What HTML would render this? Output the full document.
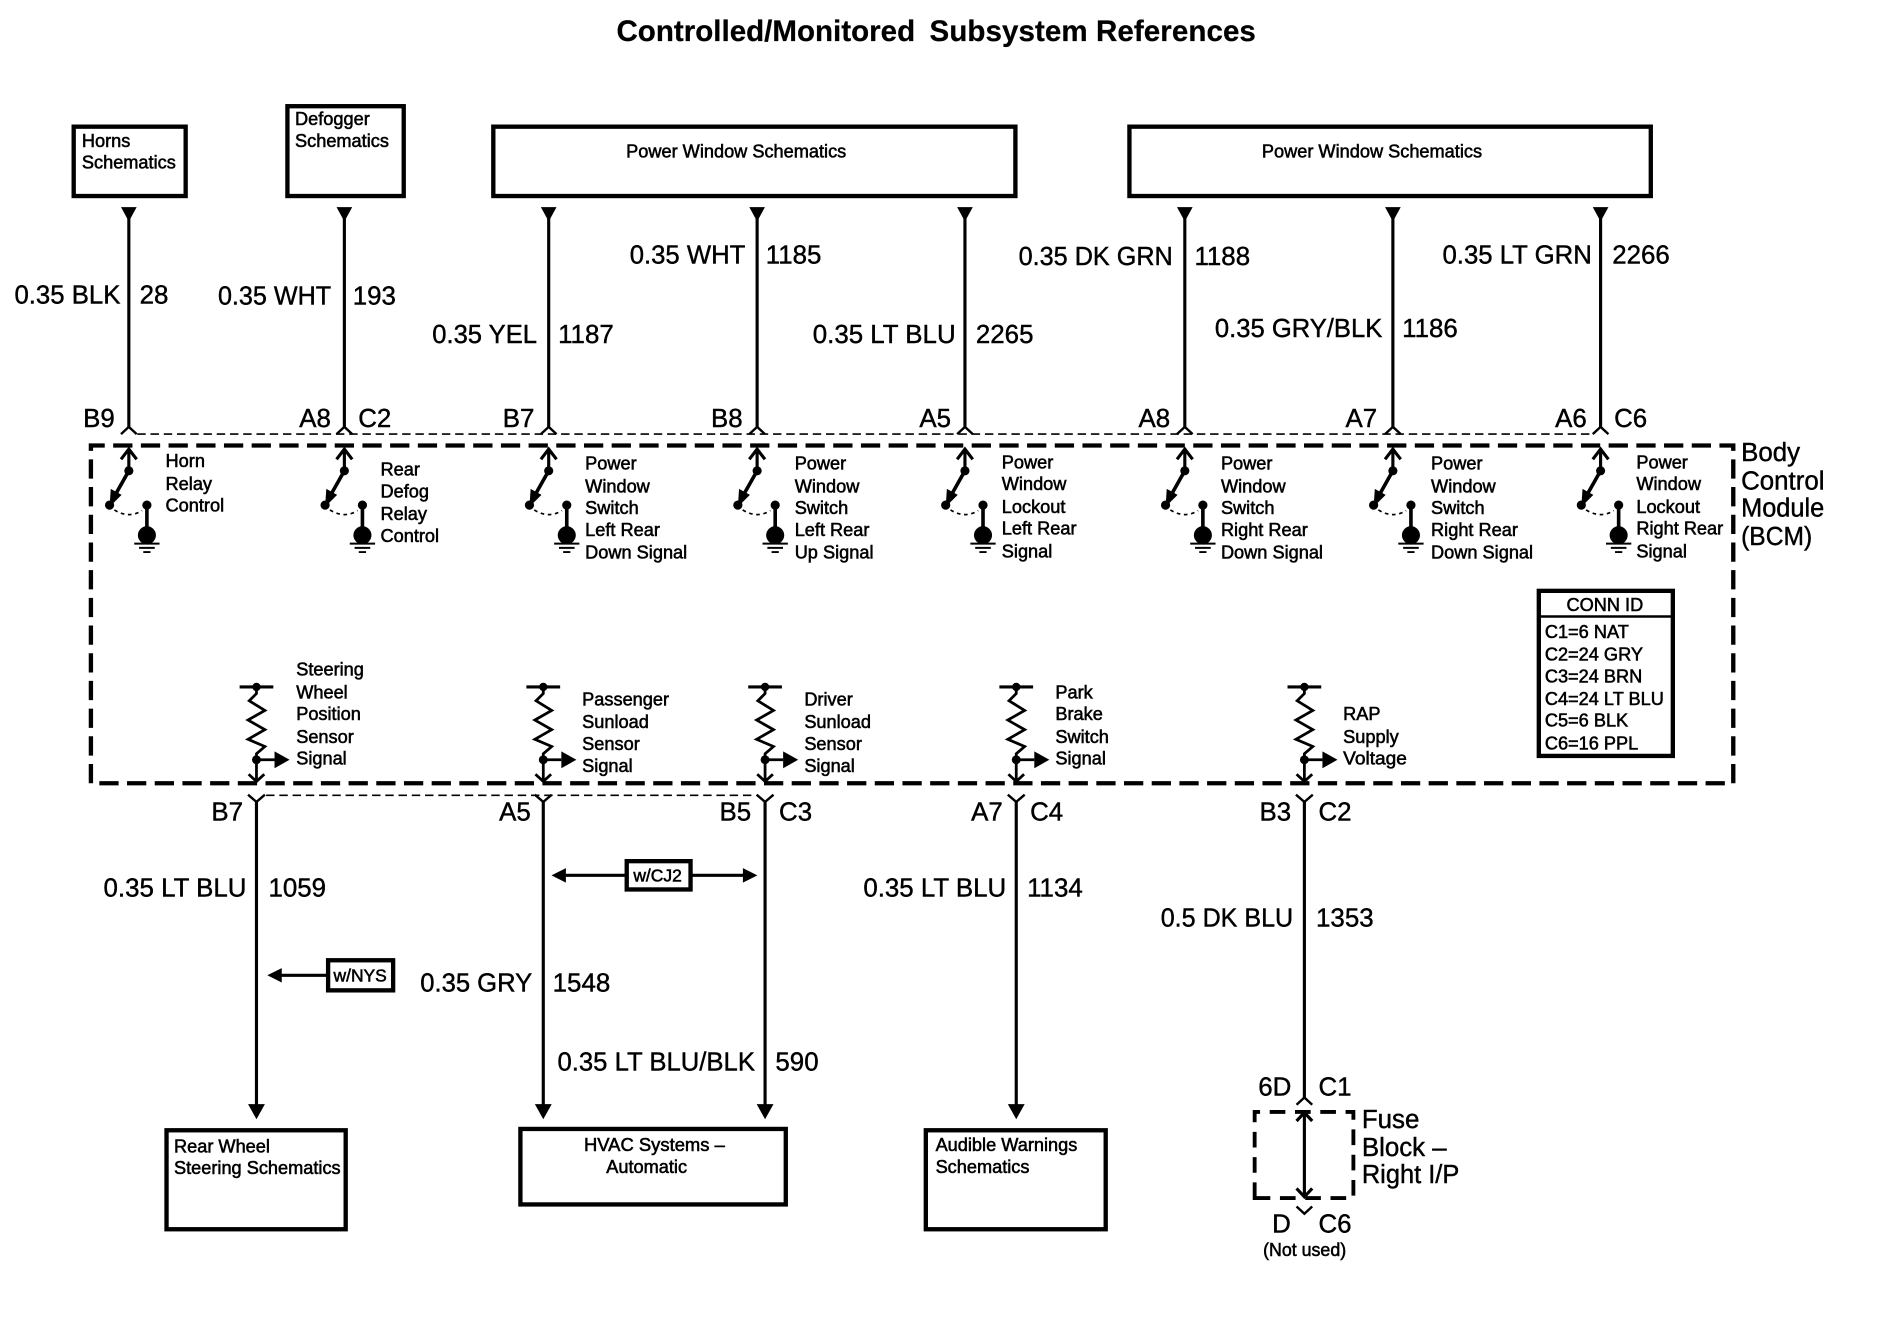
<!DOCTYPE html>
<html><head><meta charset="utf-8"><title>Controlled/Monitored Subsystem References</title>
<style>
html,body{margin:0;padding:0;background:#fff}
svg{display:block}
text{font-family:"Liberation Sans",sans-serif;fill:#000}
.l{font-size:21.5px;stroke:#000;stroke-width:.35}
.s{font-size:15.1px;stroke:#000;stroke-width:.45}
.t{font-size:24.5px;font-weight:bold;stroke:#000;stroke-width:.2}
.w{stroke:#000;stroke-width:2.6;fill:none}
.b{stroke:#000;stroke-width:3.6;fill:#fff}
</style></head><body>
<svg xmlns="http://www.w3.org/2000/svg" width="1888" height="1344" viewBox="0 0 1568 1116.2">
<defs>
<g id="sw">
<path class="w" d="M0 373V391M-6.500 381.500L0 373L6.500 381.500"/>
<circle cx="0" cy="391" r="3.800"/>
<path class="w" style="stroke-width:3" d="M0 391L-13 414"/>
<path d="M-16 421L-15 406L-6 411Z"/>
<circle cx="-16" cy="419.500" r="3.800"/>
<circle cx="15" cy="419.500" r="3.800"/>
<path d="M-12 423.500Q0 431 11 424" fill="none" stroke="#000" stroke-width="1.400" stroke-dasharray="3 3"/>
<path class="w" style="stroke-width:3" d="M15 420V444"/>
<circle cx="15" cy="444.500" r="7.500"/>
<path d="M4.500 451.500H25.500M8.500 455H21.500M12 458.500H18" stroke="#000" stroke-width="1.600" fill="none"/>
</g>
<g id="se">
<path class="w" d="M-14 570.500H14"/>
<circle cx="0" cy="570.500" r="3.500"/>
<path class="w" style="stroke-width:2.300" d="M0 571V576L-6 582L7 590L-7 598L7 606L-7 614L7 620L0 626V649M-6.500 643L0 649L6.500 643M0 631H15"/>
<circle cx="0" cy="631" r="3.700"/>
<path d="M15 624L27.500 631L15 638Z"/>
</g>
<path id="dn" d="M-6.500 172H6.500L0 184Z"/>
<path id="ch" class="w" style="stroke-width:2" d="M-6.500 360.500L0 354.500L6.500 360.500"/>
<path id="yy" class="w" style="stroke-width:2" d="M-7 660L0 666L7 660"/>
<path id="ad" d="M-7 917H7L0 929.500Z"/>
</defs>

<text class="t" x="512" y="34" textLength="248">Controlled/Monitored</text>
<text class="t" x="772" y="34" textLength="271">Subsystem References</text>

<rect class="b" x="61.200" y="105.200" width="93" height="57.600"/>
<rect class="b" x="238.700" y="88.200" width="96.600" height="74.600"/>
<rect class="b" x="409.700" y="105.200" width="433.600" height="57.600"/>
<rect class="b" x="938" y="105.200" width="433" height="57.600"/>

<text class="s" x="68" y="122">Horns</text><text class="s" x="68" y="140">Schematics</text>
<text class="s" x="245" y="104">Defogger</text><text class="s" x="245" y="122">Schematics</text>
<text class="s" x="520" y="131">Power Window Schematics</text>
<text class="s" x="1048" y="131">Power Window Schematics</text>

<!-- upper wires -->
<g>
<path class="w" d="M107 176V354.500M286 176V354.500M455.700 176V354.500M628.800 176V354.500M801.400 176V354.500M984 176V354.500M1156.800 176V354.500M1329.300 176V354.500"/>
<use href="#dn" x="107"/><use href="#dn" x="286"/><use href="#dn" x="455.700"/><use href="#dn" x="628.800"/><use href="#dn" x="801.400"/><use href="#dn" x="984"/><use href="#dn" x="1156.800"/><use href="#dn" x="1329.300"/>
<use href="#ch" x="107"/><use href="#ch" x="286"/><use href="#ch" x="455.700"/><use href="#ch" x="628.800"/><use href="#ch" x="801.400"/><use href="#ch" x="984"/><use href="#ch" x="1156.800"/><use href="#ch" x="1329.300"/>
</g>
<path d="M114 360.500H1322" stroke="#000" stroke-width="1.300" stroke-dasharray="7 4" fill="none"/>

<g>
<text class="l" x="12" y="252" textLength="88" lengthAdjust="spacingAndGlyphs">0.35 BLK</text><text class="l" x="116" y="252">28</text>
<text class="l" x="181" y="253" textLength="94" lengthAdjust="spacingAndGlyphs">0.35 WHT</text><text class="l" x="293" y="253">193</text>
<text class="l" x="359" y="285" textLength="87" lengthAdjust="spacingAndGlyphs">0.35 YEL</text><text class="l" x="463.500" y="285">1187</text>
<text class="l" x="523" y="219" textLength="96" lengthAdjust="spacingAndGlyphs">0.35 WHT</text><text class="l" x="636" y="219">1185</text>
<text class="l" x="675" y="285">0.35 LT BLU</text><text class="l" x="810.500" y="285">2265</text>
<text class="l" x="846" y="220" textLength="128" lengthAdjust="spacingAndGlyphs">0.35 DK GRN</text><text class="l" x="992" y="220">1188</text>
<text class="l" x="1009" y="280" textLength="139" lengthAdjust="spacingAndGlyphs">0.35 GRY/BLK</text><text class="l" x="1164.500" y="280">1186</text>
<text class="l" x="1198" y="219" textLength="124" lengthAdjust="spacingAndGlyphs">0.35 LT GRN</text><text class="l" x="1339" y="219">2266</text>
<text class="l" x="69" y="354.500">B9</text><text class="l" x="248.500" y="354.500">A8</text><text class="l" x="297.500" y="354.500">C2</text>
<text class="l" x="417.500" y="354.500">B7</text><text class="l" x="590.500" y="354.500">B8</text><text class="l" x="763.500" y="354.500">A5</text>
<text class="l" x="945.500" y="354.500">A8</text><text class="l" x="1117.500" y="354.500">A7</text><text class="l" x="1291.500" y="354.500">A6</text><text class="l" x="1340.500" y="354.500">C6</text>
</g>

<!-- BCM dashed box -->
<path d="M75.500 650.500V370H1439.500V650.500Z" fill="none" stroke="#000" stroke-width="3.600" stroke-dasharray="16 7"/>

<use href="#sw" x="107"/><use href="#sw" x="286"/><use href="#sw" x="455.700"/><use href="#sw" x="628.800"/><use href="#sw" x="801.400"/><use href="#sw" x="984"/><use href="#sw" x="1156.800"/><use href="#sw" x="1329.300"/>

<text class="s" x="137.500" y="388">Horn</text><text class="s" x="137.500" y="407">Relay</text><text class="s" x="137.500" y="425">Control</text>
<text class="s" x="316" y="395">Rear</text><text class="s" x="316" y="413">Defog</text><text class="s" x="316" y="432">Relay</text><text class="s" x="316" y="450">Control</text>
<text class="s" x="486" y="390">Power</text><text class="s" x="486" y="409">Window</text><text class="s" x="486" y="427">Switch</text><text class="s" x="486" y="445">Left Rear</text><text class="s" x="486" y="464">Down Signal</text>
<text class="s" x="660" y="390">Power</text><text class="s" x="660" y="409">Window</text><text class="s" x="660" y="427">Switch</text><text class="s" x="660" y="445">Left Rear</text><text class="s" x="660" y="464">Up Signal</text>
<text class="s" x="832" y="389">Power</text><text class="s" x="832" y="407">Window</text><text class="s" x="832" y="426">Lockout</text><text class="s" x="832" y="444">Left Rear</text><text class="s" x="832" y="463">Signal</text>
<text class="s" x="1014" y="390">Power</text><text class="s" x="1014" y="409">Window</text><text class="s" x="1014" y="427">Switch</text><text class="s" x="1014" y="445">Right Rear</text><text class="s" x="1014" y="464">Down Signal</text>
<text class="s" x="1188.500" y="390">Power</text><text class="s" x="1188.500" y="409">Window</text><text class="s" x="1188.500" y="427">Switch</text><text class="s" x="1188.500" y="445">Right Rear</text><text class="s" x="1188.500" y="464">Down Signal</text>
<text class="s" x="1359" y="389">Power</text><text class="s" x="1359" y="407">Window</text><text class="s" x="1359" y="426">Lockout</text><text class="s" x="1359" y="444">Right Rear</text><text class="s" x="1359" y="463">Signal</text>

<text class="l" x="1446" y="383">Body</text><text class="l" x="1446" y="406.500">Control</text><text class="l" x="1446" y="429" textLength="69" lengthAdjust="spacingAndGlyphs">Module</text><text class="l" x="1446" y="452.500" textLength="59" lengthAdjust="spacingAndGlyphs">(BCM)</text>

<!-- CONN ID -->
<rect class="b" x="1278" y="490.700" width="111.300" height="137.100"/>
<path d="M1278 512H1389" stroke="#000" stroke-width="2"/>
<text class="s" x="1301" y="507.500">CONN ID</text>
<text class="s" x="1283" y="530">C1=6 NAT</text>
<text class="s" x="1283" y="548.500">C2=24 GRY</text>
<text class="s" x="1283" y="567">C3=24 BRN</text>
<text class="s" x="1283" y="585.500">C4=24 LT BLU</text>
<text class="s" x="1283" y="603.500">C5=6 BLK</text>
<text class="s" x="1283" y="622.500">C6=16 PPL</text>

<!-- sensors -->
<use href="#se" x="213"/><use href="#se" x="451.200"/><use href="#se" x="635.400"/><use href="#se" x="844"/><use href="#se" x="1083.300"/>
<text class="s" x="246" y="561">Steering</text><text class="s" x="246" y="580">Wheel</text><text class="s" x="246" y="598">Position</text><text class="s" x="246" y="617">Sensor</text><text class="s" x="246" y="635">Signal</text>
<text class="s" x="483.500" y="586">Passenger</text><text class="s" x="483.500" y="604.500">Sunload</text><text class="s" x="483.500" y="623">Sensor</text><text class="s" x="483.500" y="641">Signal</text>
<text class="s" x="668" y="586">Driver</text><text class="s" x="668" y="604.500">Sunload</text><text class="s" x="668" y="623">Sensor</text><text class="s" x="668" y="641">Signal</text>
<text class="s" x="876.500" y="580">Park</text><text class="s" x="876.500" y="598">Brake</text><text class="s" x="876.500" y="617">Switch</text><text class="s" x="876.500" y="635">Signal</text>
<text class="s" x="1115.500" y="598">RAP</text><text class="s" x="1115.500" y="617">Supply</text><text class="s" x="1115.500" y="635" textLength="53" lengthAdjust="spacingAndGlyphs">Voltage</text>

<!-- lower wires -->
<path d="M221 660.500H627" stroke="#000" stroke-width="1.300" stroke-dasharray="7 4" fill="none"/>
<use href="#yy" x="213"/><use href="#yy" x="451.200"/><use href="#yy" x="635.400"/><use href="#yy" x="844"/><use href="#yy" x="1083.300"/>
<path class="w" d="M213 666V920M451.200 666V920M635.400 666V920M844 666V920M1083.300 666V911.500"/>
<use href="#ad" x="213"/><use href="#ad" x="451.200"/><use href="#ad" x="635.400"/><use href="#ad" x="844"/>

<text class="l" x="175.500" y="681.500">B7</text><text class="l" x="414.500" y="681.500">A5</text><text class="l" x="597.500" y="681.500">B5</text><text class="l" x="647" y="681.500">C3</text>
<text class="l" x="806.500" y="681.500">A7</text><text class="l" x="855.500" y="681.500">C4</text><text class="l" x="1046" y="681.500">B3</text><text class="l" x="1095" y="681.500">C2</text>
<text class="l" x="86" y="744.500">0.35 LT BLU</text><text class="l" x="223" y="744.500">1059</text>
<text class="l" x="717" y="744.500">0.35 LT BLU</text><text class="l" x="853" y="744.500">1134</text>
<text class="l" x="964" y="769.500" textLength="110" lengthAdjust="spacingAndGlyphs">0.5 DK BLU</text><text class="l" x="1093" y="769.500">1353</text>
<text class="l" x="349" y="823.500" textLength="93" lengthAdjust="spacingAndGlyphs">0.35 GRY</text><text class="l" x="459" y="823.500">1548</text>
<text class="l" x="463" y="889" textLength="164" lengthAdjust="spacingAndGlyphs">0.35 LT BLU/BLK</text><text class="l" x="644" y="889">590</text>

<!-- w/NYS, w/CJ2 -->
<rect class="b" x="272.500" y="797.500" width="54" height="25"/>
<text class="s" style="font-size:14.500px" x="277" y="815">w/NYS</text>
<path class="w" d="M272 810H232"/><path d="M222 810L234 804V816Z"/>
<rect class="b" x="520.500" y="715.200" width="53" height="23.500"/>
<text class="s" style="font-size:14.500px" x="526" y="732">w/CJ2</text>
<path class="w" d="M520 727H468M575 727H618"/><path d="M458 727L470 721V733Z"/><path d="M629 727L617 721V733Z"/>

<!-- lower boxes -->
<rect class="b" x="138.300" y="938.700" width="148.800" height="82.200"/>
<rect class="b" x="432.200" y="937.600" width="220.400" height="62.700"/>
<rect class="b" x="768.900" y="938.700" width="149.400" height="82.200"/>
<text class="s" x="144.500" y="957">Rear Wheel</text><text class="s" x="144.500" y="975">Steering Schematics</text>
<text class="s" x="485" y="956" textLength="117" lengthAdjust="spacingAndGlyphs">HVAC Systems –</text><text class="s" x="503.500" y="974">Automatic</text>
<text class="s" x="777" y="956">Audible Warnings</text><text class="s" x="777" y="974">Schematics</text>

<!-- Fuse block -->
<path class="w" style="stroke-width:2" d="M1076.800 917.500L1083.300 911.500L1089.800 917.500"/>
<path d="M1042 995V923.500H1124V995Z" fill="none" stroke="#000" stroke-width="3.200" stroke-dasharray="13 8"/>
<path class="w" d="M1083.300 924V994M1076.800 931L1083.300 924L1089.800 931M1076.800 987L1083.300 994L1089.800 987"/>
<path class="w" style="stroke-width:2" d="M1076.800 1002L1083.300 1008L1089.800 1002"/>
<text class="l" x="1045" y="910">6D</text><text class="l" x="1095" y="910">C1</text>
<text class="l" x="1056.500" y="1023.500">D</text><text class="l" x="1095" y="1023.500">C6</text>
<text class="s" x="1049" y="1043" textLength="69" lengthAdjust="spacingAndGlyphs">(Not used)</text>
<text class="l" x="1131" y="937">Fuse</text><text class="l" x="1131" y="960">Block –</text><text class="l" x="1131" y="982.500" textLength="81" lengthAdjust="spacingAndGlyphs">Right I/P</text>
</svg>
</body></html>
